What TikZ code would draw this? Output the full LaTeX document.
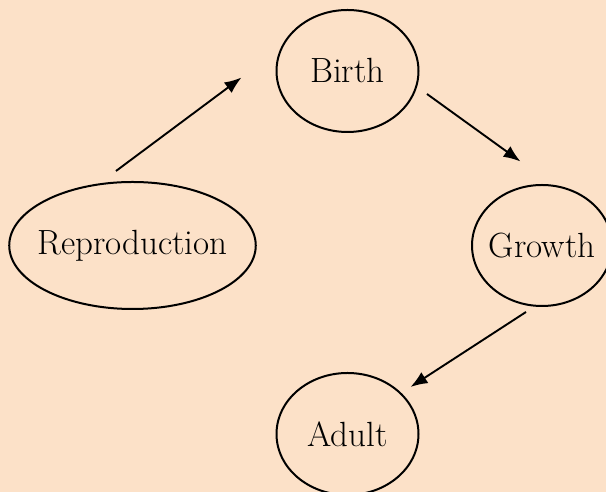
\documentclass[tikz,border=0pt]{standalone}
\usepackage{fontspec}
\usetikzlibrary{shapes.geometric, arrows.meta, positioning}
\definecolor{peach}{RGB}{252,225,200}
\tikzstyle{arrow} = [line width=1.9pt,-{Latex[length=17pt,width=13pt]}]
\tikzstyle{stage} = [ellipse, draw=black, line width=2pt, minimum width=142pt, minimum height=122pt, inner ysep=0pt, inner xsep=-8pt, text centered, font=\fontsize{35}{42}\selectfont]

\begin{document}
\begin{tikzpicture}[node distance=174.5pt]

% Background
\useasboundingbox (0,0) rectangle (606pt,492pt);
\fill [peach] (0,0) rectangle (606pt,492pt);

% Stages
\node (birth) [stage] at (347.5pt,421pt) {Birth};
\node (growth) [stage, below of=birth, xshift=194.5pt, minimum width=140pt, minimum height=121pt] {Growth};
\node (repro) [stage, below of=birth, xshift=-215pt, minimum width=245pt, minimum height=127pt] {Reproduction};
\node (adult) [stage, below of=birth, yshift=-188.5pt] {Adult};

% Cycle
\draw [arrow] ([xshift=-16.5pt,yshift=10pt]repro.north) -- ([xshift=-34pt,yshift=-6.5pt]birth.west);
\draw [arrow] ([xshift=7.5pt,yshift=-23pt]birth.east) -- ([xshift=-21.5pt,yshift=22.5pt]growth.north);
\draw [arrow] ([xshift=-16pt,yshift=-5pt]growth.south) -- ([xshift=63pt,yshift=-15pt]adult.north);

\end{tikzpicture}
\end{document}
